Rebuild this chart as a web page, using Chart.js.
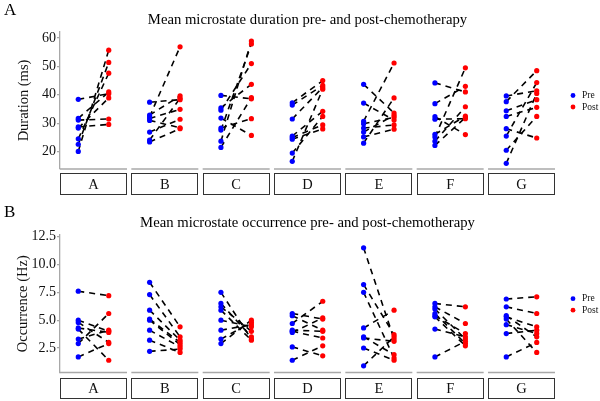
<!DOCTYPE html>
<html><head><meta charset="utf-8">
<script src="https://cdn.jsdelivr.net/npm/chart.js@4.4.1/dist/chart.umd.min.js"></script>
<style>
html,body{margin:0;padding:0;background:#fff;width:600px;height:401px;overflow:hidden}
canvas{position:absolute;left:0;display:block}
#cA{top:0}#cB{top:200px}
</style></head><body>
<canvas id="cA" width="600" height="200"></canvas>
<canvas id="cB" width="600" height="201"></canvas>
<script>
// ---------- data ----------
const facets = ['A','B','C','D','E','F','G'];
const seriesNames = ['Pre','Post'];
const durationTicks = [20,30,40,50,60];
const occurrenceTicks = [2.5,5.0,7.5,10.0,12.5];
const durationTickLabels = ['20','30','40','50','60'];
const occurrenceTickLabels = ['2.5','5.0','7.5','10.0','12.5'];

// paired by index (subject i: pre[i] -> post[i])
const durationPre = [
 [38.4,31.7,31.1,28.7,28.3,24.5,22.6,20.1],
 [37.4,32.9,32.3,31.7,31.0,26.9,24.1,23.4],
 [39.8,35.4,34.6,31.8,28.3,27.6,23.7,21.5],
 [37.2,36.4,31.5,25.5,25.0,24.4,19.5,16.6],
 [43.7,37.1,30.7,29.8,28.3,26.9,25.2,23.0],
 [44.2,36.9,32.3,31.4,26.1,25.2,23.7,22.2],
 [39.6,37.6,34.4,32.4,28.1,25.5,20.5,15.9]];
const durationPost = [
 [40.4,41.0,31.5,29.6,38.9,47.6,51.4,55.7],
 [38.3,39.6,56.9,34.9,28.4,31.4,38.8,28.1],
 [38.6,43.7,51.0,25.7,31.6,57.9,58.9,39.0],
 [45.0,43.3,42.6,34.2,29.4,28.0,32.4,42.0],
 [33.6,31.1,51.2,32.1,29.4,32.8,27.9,38.9],
 [41.0,43.0,26.0,31.6,32.5,49.5,35.8,32.0],
 [41.4,48.5,38.3,35.6,24.8,44.3,32.4,40.5]];
const occurrencePre = [
 [7.6,5.0,4.8,4.3,4.2,3.3,2.9,1.7],
 [8.4,7.3,5.9,5.1,5.0,4.1,3.2,2.2],
 [7.5,6.5,6.2,5.9,5.0,4.1,3.3,2.9],
 [5.6,5.4,4.7,4.1,4.0,3.9,2.6,1.4],
 [11.5,8.2,7.5,4.3,3.5,3.4,2.5,0.9],
 [6.5,6.2,6.0,5.6,5.4,5.3,4.2,1.7],
 [6.9,6.2,5.4,5.3,5.1,4.6,3.8,1.7]];
const occurrencePost = [
 [7.2,4.0,3.0,3.9,1.4,4.1,5.6,2.9],
 [4.4,3.5,3.2,3.0,2.8,2.6,2.1,2.4],
 [3.3,3.5,4.0,3.2,4.4,4.6,4.8,5.0],
 [5.1,4.1,6.7,4.0,3.4,5.2,1.8,2.7],
 [3.3,3.7,1.6,5.9,1.9,3.1,1.4,3.5],
 [6.2,4.7,3.3,2.9,3.8,2.7,3.5,3.1],
 [7.1,5.6,3.5,4.4,2.1,3.8,4.1,3.0]];

// ---------- layout ----------
const FONT = '"Liberation Serif","Times New Roman",serif';
const FACET_W = 2.2;      // discrete scale: 2 categories with 0.6 expansion
const PITCH = 2.342;      // facet width + panel spacing, in x units
const X_MAX = 6*PITCH + FACET_W;
const PRE_X = 0.6, POST_X = 1.6;
const BLUE = '#0000ff', RED = '#ff0000';

function buildChart(canvasId, opt){
  const datasets = [];
  const preMarks = [], postMarks = [];
  facets.forEach((f,k)=>{
    opt.pre[k].forEach((v,i)=>{
      const w = opt.post[k][i];
      datasets.push({
        type:'scatter', showLine:true, data:[{x:k*PITCH+PRE_X,y:v},{x:k*PITCH+POST_X,y:w}],
        borderColor:'#000', borderWidth:1.6, borderDash:[6,5], pointRadius:0, order:2
      });
      preMarks.push({x:k*PITCH+PRE_X,y:v});
      postMarks.push({x:k*PITCH+POST_X,y:w});
    });
  });
  datasets.push({type:'scatter', label:seriesNames[0], data:preMarks, backgroundColor:BLUE, borderColor:BLUE, pointRadius:2.6, borderWidth:0, order:1});
  datasets.push({type:'scatter', label:seriesNames[1], data:postMarks, backgroundColor:RED, borderColor:RED, pointRadius:2.6, borderWidth:0, order:1});

  const deco = {
    id:'deco',
    afterDraw(chart){
      const {ctx, chartArea:ca, scales:{x}} = chart;
      ctx.save();
      facets.forEach((f,k)=>{
        const x0 = x.getPixelForValue(k*PITCH), x1 = x.getPixelForValue(k*PITCH+FACET_W);
        ctx.strokeStyle='#a8a8a8'; ctx.lineWidth=1.3;
        ctx.beginPath(); ctx.moveTo(x0, ca.bottom); ctx.lineTo(x1, ca.bottom); ctx.stroke();
        ctx.strokeStyle='#333'; ctx.lineWidth=1;
        ctx.strokeRect(Math.round(x0)+0.5, opt.stripTop+0.5, Math.round(x1-x0)-1, opt.stripH);
        ctx.fillStyle='#111'; ctx.font='14.5px '+FONT; ctx.textAlign='center'; ctx.textBaseline='middle';
        ctx.fillText(f,(x0+x1)/2, opt.stripTop+opt.stripH/2+1.5);
      });
      // panel letter
      ctx.fillStyle='#000'; ctx.font='17px '+FONT; ctx.textAlign='left'; ctx.textBaseline='middle';
      ctx.fillText(opt.letter, 4, opt.letterY);
      // title
      ctx.font='14.7px '+FONT; ctx.textAlign='center';
      ctx.fillText(opt.title, (ca.left+ca.right)/2, opt.titleY);
      // y title
      ctx.save(); ctx.translate(opt.yTitleX,(ca.top+ca.bottom)/2); ctx.rotate(-Math.PI/2);
      ctx.font='14.5px '+FONT; ctx.fillStyle='#111'; ctx.fillText(opt.yTitle,0,0); ctx.restore();
      // legend
      ctx.font='9.5px '+FONT; ctx.textAlign='left';
      [[BLUE,seriesNames[0]],[RED,seriesNames[1]]].forEach(([c,t],i)=>{
        const yy = opt.legendY + i*11.5;
        ctx.fillStyle=c; ctx.beginPath(); ctx.arc(573,yy,2.4,0,Math.PI*2); ctx.fill();
        ctx.fillStyle='#111'; ctx.fillText(t,582,yy);
      });
      ctx.restore();
    }
  };

  return new Chart(document.getElementById(canvasId),{
    type:'scatter',
    data:{datasets},
    options:{
      responsive:false, animation:false, devicePixelRatio:1,
      layout:{padding:opt.padding},
      plugins:{legend:{display:false}, tooltip:{enabled:false}, title:{display:false}},
      scales:{
        x:{type:'linear', min:0, max:X_MAX, display:false},
        y:{type:'linear', min:opt.yMin, max:opt.yMax,
           afterFit(s){ s.width = 60; },
           afterBuildTicks(s){ s.ticks = opt.ticks.map(v=>({value:v})); },
           grid:{drawOnChartArea:false, drawTicks:true, tickLength:3, color:'#a8a8a8', lineWidth:1.3},
           border:{display:true, color:'#a8a8a8', width:1.3},
           ticks:{padding:1, color:'#111', font:{family:FONT, size:14},
                  callback:(v)=>{ const i = opt.ticks.indexOf(v); return i>=0 ? opt.tickLabels[i] : ''; }}
        }
      }
    },
    plugins:[deco]
  });
}

buildChart('cA',{
  pre:durationPre, post:durationPost, ticks:durationTicks, tickLabels:durationTickLabels,
  yMin:13.9, yMax:62.1, padding:{top:32,bottom:31,left:0,right:45},
  stripTop:173, stripH:21, letter:'A', letterY:11, title:'Mean microstate duration pre- and post-chemotherapy',
  titleY:20, yTitle:'Duration (ms)', yTitleX:24, legendY:95.5
});
buildChart('cB',{
  pre:occurrencePre, post:occurrencePost, ticks:occurrenceTicks, tickLabels:occurrenceTickLabels,
  yMin:0.3, yMax:12.65, padding:{top:35,bottom:28.5,left:0,right:45},
  stripTop:178, stripH:20, letter:'B', letterY:13, title:'Mean microstate occurrence pre- and post-chemotherapy',
  titleY:23, yTitle:'Occurrence (Hz)', yTitleX:23, legendY:98.7
});
</script>
</body></html>
